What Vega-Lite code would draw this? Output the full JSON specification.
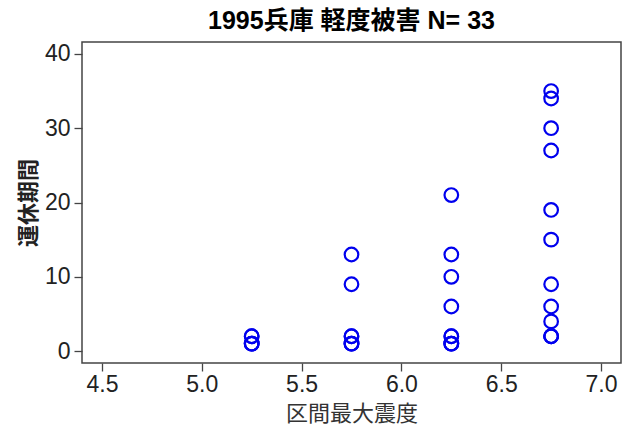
{
  "$schema": "https://vega.github.io/schema/vega-lite/v6.json",
  "autosize": {"type": "none"},
  "width": 539,
  "height": 321,
  "padding": {"left": 82, "top": 42, "right": 3, "bottom": 65},
  "background": "white",
  "title": {
    "text": "1995兵庫 軽度被害 N= 33",
    "font": "Liberation Sans, Noto Sans CJK JP",
    "fontSize": 25,
    "fontWeight": "bold",
    "color": "black",
    "anchor": "middle",
    "offset": 8
  },
  "data": {
    "values": [
      {"intensity": 5.25, "days": 1}, {"intensity": 5.25, "days": 1}, {"intensity": 5.25, "days": 1},
      {"intensity": 5.25, "days": 2}, {"intensity": 5.25, "days": 2},
      {"intensity": 5.75, "days": 1}, {"intensity": 5.75, "days": 1}, {"intensity": 5.75, "days": 1},
      {"intensity": 5.75, "days": 2}, {"intensity": 5.75, "days": 2},
      {"intensity": 5.75, "days": 9}, {"intensity": 5.75, "days": 13},
      {"intensity": 6.25, "days": 1}, {"intensity": 6.25, "days": 1}, {"intensity": 6.25, "days": 1},
      {"intensity": 6.25, "days": 2}, {"intensity": 6.25, "days": 2},
      {"intensity": 6.25, "days": 6}, {"intensity": 6.25, "days": 10},
      {"intensity": 6.25, "days": 13}, {"intensity": 6.25, "days": 21},
      {"intensity": 6.75, "days": 2}, {"intensity": 6.75, "days": 2}, {"intensity": 6.75, "days": 2},
      {"intensity": 6.75, "days": 4}, {"intensity": 6.75, "days": 6},
      {"intensity": 6.75, "days": 9}, {"intensity": 6.75, "days": 15},
      {"intensity": 6.75, "days": 19}, {"intensity": 6.75, "days": 27},
      {"intensity": 6.75, "days": 30}, {"intensity": 6.75, "days": 34},
      {"intensity": 6.75, "days": 35}
    ]
  },
  "mark": {"type": "point", "shape": "circle", "filled": false, "color": "#0000ee", "size": 185, "strokeWidth": 2.2, "opacity": 1},
  "encoding": {
    "x": {
      "field": "intensity", "type": "quantitative",
      "scale": {"domain": [4.4, 7.1], "nice": false, "zero": false},
      "axis": {
        "values": [4.5, 5.0, 5.5, 6.0, 6.5, 7.0],
        "format": ".1f",
        "title": "区間最大震度",
        "grid": false, "domain": false,
        "tickSize": 8, "tickColor": "#444", "tickWidth": 1.3,
        "labelFont": "Liberation Sans", "labelFontSize": 23, "labelColor": "#222", "labelPadding": 2,
        "titleFont": "Noto Sans CJK JP", "titleFontSize": 22, "titleFontWeight": "normal", "titleColor": "#333", "titlePadding": 7
      }
    },
    "y": {
      "field": "days", "type": "quantitative",
      "scale": {"domain": [-1.6, 41.6], "nice": false, "zero": false},
      "axis": {
        "values": [0, 10, 20, 30, 40],
        "title": "運休期間",
        "grid": false, "domain": false,
        "tickSize": 8, "tickColor": "#444", "tickWidth": 1.3,
        "labelFont": "Liberation Sans", "labelFontSize": 23, "labelColor": "#222", "labelPadding": 4,
        "titleFont": "Noto Sans CJK JP", "titleFontSize": 22, "titleFontWeight": "bold", "titleColor": "#222", "titlePadding": 4
      }
    }
  },
  "config": {
    "view": {"stroke": "#444", "strokeWidth": 1.5}
  }
}
